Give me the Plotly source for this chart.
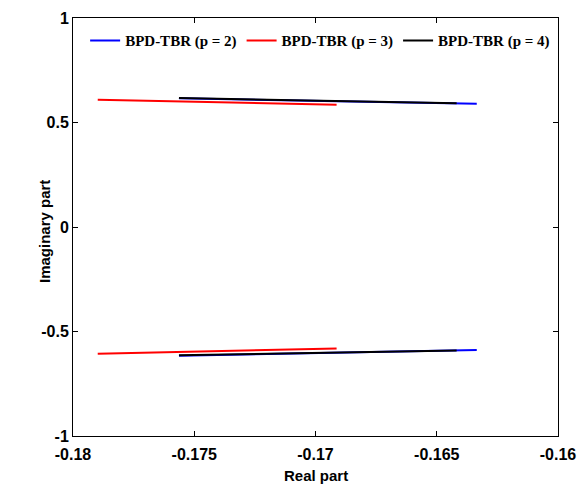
import plotly.graph_objects as go

# Eigenvalue loci (real part, imaginary part) for each model order
re_p2_upper = [-0.17563, -0.1700, -0.16335]
im_p2_upper = [0.616, 0.604, 0.590]
re_p2_lower = [-0.17563, -0.1700, -0.16335]
im_p2_lower = [-0.616, -0.604, -0.589]

re_p3_upper = [-0.17898, -0.1741, -0.16913]
im_p3_upper = [0.609, 0.598, 0.585]
re_p3_lower = [-0.17898, -0.1741, -0.16913]
im_p3_lower = [-0.607, -0.594, -0.581]

re_p4_upper = [-0.17563, -0.1700, -0.16418]
im_p4_upper = [0.617, 0.605, 0.592]
re_p4_lower = [-0.17563, -0.1700, -0.16418]
im_p4_lower = [-0.614, -0.603, -0.591]

series_names = ["BPD-TBR (p = 2)", "BPD-TBR (p = 3)", "BPD-TBR (p = 4)"]
series_colors = ["#0000ff", "#ff0000", "#000000"]

x_ticks = [-0.18, -0.175, -0.17, -0.165, -0.16]
x_tick_labels = ["-0.18", "-0.175", "-0.17", "-0.165", "-0.16"]
y_ticks = [-1, -0.5, 0, 0.5, 1]
y_tick_labels = ["-1", "-0.5", "0", "0.5", "1"]

FONT = "Liberation Sans, Arial, sans-serif"

fig = go.Figure()
data = [
    (re_p2_upper, im_p2_upper, re_p2_lower, im_p2_lower),
    (re_p3_upper, im_p3_upper, re_p3_lower, im_p3_lower),
    (re_p4_upper, im_p4_upper, re_p4_lower, im_p4_lower),
]
for (xu, yu, xl, yl), name, col in zip(data, series_names, series_colors):
    fig.add_trace(go.Scatter(
        x=list(xu) + [None] + list(xl),
        y=list(yu) + [None] + list(yl),
        mode="lines", name=name,
        line=dict(color=col, width=2),
        connectgaps=False,
    ))

axis_common = dict(
    showline=True, linecolor="black", linewidth=1, mirror="ticks",
    ticks="inside", ticklen=5, tickcolor="black", showgrid=False,
    zeroline=False, automargin=False,
    tickfont=dict(family=FONT, size=16, color="black", weight="bold"),
)
fig.update_xaxes(range=[-0.18, -0.16], tickvals=x_ticks, ticktext=x_tick_labels,
                 ticklabelstandoff=4, **axis_common)
fig.update_yaxes(range=[-1, 1], tickvals=y_ticks, ticktext=y_tick_labels, **axis_common)

fig.update_layout(
    width=580, height=493,
    margin=dict(l=73, r=22, t=18, b=57),
    plot_bgcolor="white", paper_bgcolor="white",
    showlegend=True,
    legend=dict(
        orientation="h", x=0.025, y=0.985, xanchor="left", yanchor="top",
        bgcolor="rgba(0,0,0,0)", itemwidth=30, tracegroupgap=0,
        font=dict(family="Liberation Serif, serif", size=15, color="black", weight="bold"),
    ),
    annotations=[
        dict(text="Real part", x=0.5, y=-39 / 418, xref="paper", yref="paper",
             xanchor="center", yanchor="middle", showarrow=False,
             font=dict(family=FONT, size=15, color="black", weight="bold")),
        dict(text="Imaginary part", x=-(73 - 44) / 485, y=(436 - 232) / 418,
             xref="paper", yref="paper", xanchor="center", yanchor="middle",
             showarrow=False, textangle=-90,
             font=dict(family=FONT, size=15, color="black", weight="bold")),
    ],
)
fig.write_html("out.html", config={"displayModeBar": False},
               post_script="document.body.style.margin='0px';")
